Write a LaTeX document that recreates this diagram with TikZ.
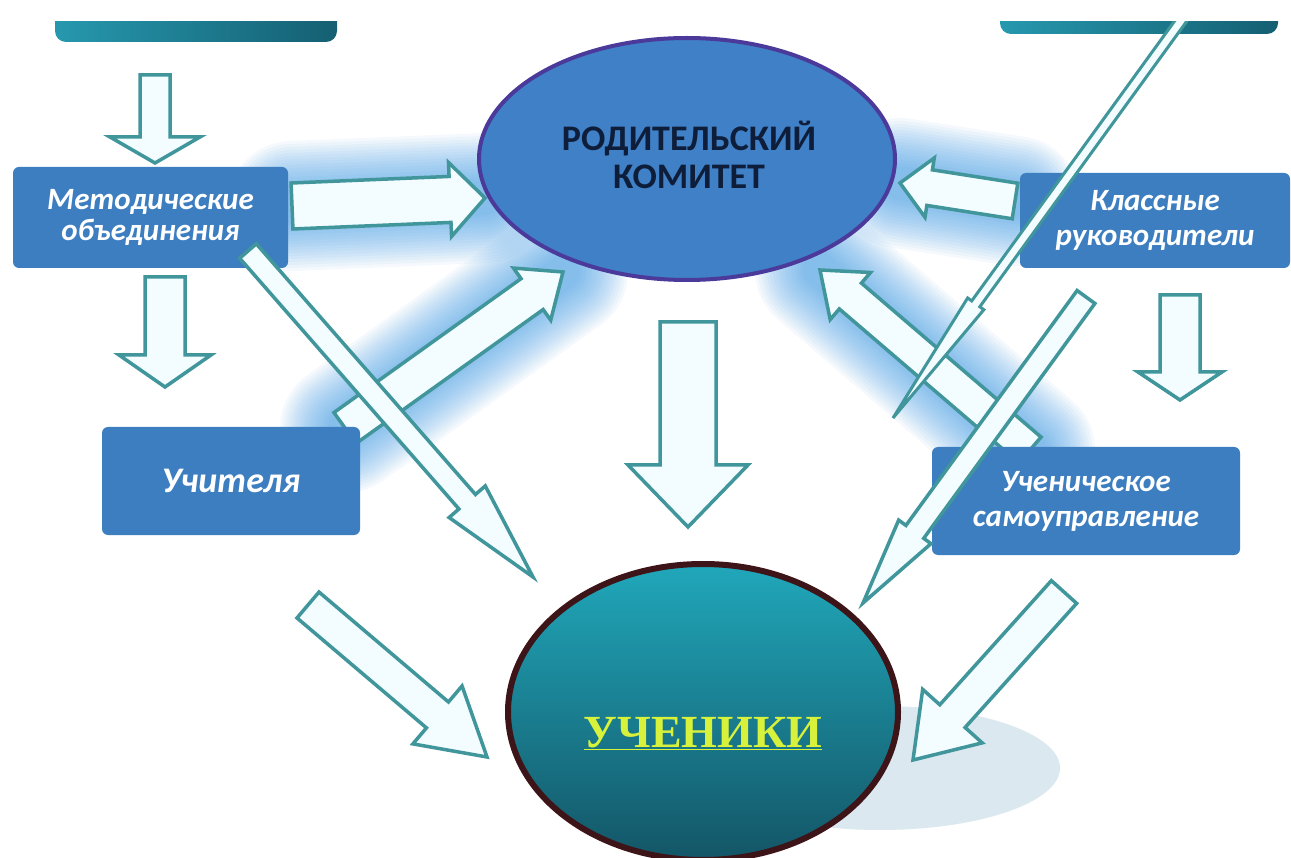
\documentclass[tikz,border=0pt]{standalone}
\usepackage{fontspec}
\setmainfont{Carlito}
\newfontfamily\timesfont{Liberation Serif}
\usetikzlibrary{shapes,calc}

\definecolor{boxblue}{HTML}{3D7EC0}
\definecolor{comfill}{HTML}{3F80C6}
\definecolor{comline}{HTML}{4B3A9A}
\definecolor{comtext}{HTML}{0E1E3A}
\definecolor{arrline}{HTML}{40969B}
\definecolor{arrfill}{HTML}{F3FCFF}
\definecolor{glowblue}{HTML}{3C9BE6}
\definecolor{pupline}{HTML}{3D1418}
\definecolor{pupyellow}{HTML}{D8F23C}
\definecolor{tealtop}{HTML}{2698AE}
\definecolor{tealdark}{HTML}{155F72}
\definecolor{shadowgrey}{HTML}{DCE8EF}

% block arrow: [style]{from}{to}{half shaft}{half head}{head length}
\newcommand{\fatarrow}[6][]{%
  \coordinate (fa-c) at ($(#3)!#6!(#2)$);
  \draw[arrow,#1] ($(#2)!#4!90:(#3)$) -- ($(fa-c)!#4!90:(#3)$) -- ($(fa-c)!#5!90:(#3)$)
    -- (#3) -- ($(fa-c)!#5!-90:(#3)$) -- ($(fa-c)!#4!-90:(#3)$) -- ($(#2)!#4!-90:(#3)$) -- cycle;
}
% soft blue halo along a line
\newcommand{\glowline}[2]{%
  \foreach \w in {130,124,...,34}
    \draw[glow,line width=\w pt] (#1) -- (#2);
}

\begin{document}
\begin{tikzpicture}[x=1pt,y=-1pt]
    \tikzstyle{arrow}=[draw=arrline,fill=arrfill,line width=3.5pt,line join=miter]
    \tikzstyle{glow}=[glowblue,opacity=0.05,line cap=round]
    \tikzstyle{box}=[rectangle,rounded corners=6pt,fill=boxblue,text=white,align=center,inner sep=0pt,
        font=\bfseries\itshape\fontsize{31}{35}\selectfont]
    \tikzstyle{topbox}=[rectangle,rounded corners=11pt,left color=tealtop,right color=tealdark,inner sep=0pt]
    \tikzstyle{committee}=[ellipse,fill=comfill,draw=comline,line width=4pt,minimum width=416pt,minimum height=242pt]
    \tikzstyle{comlabel}=[text=comtext,align=center,inner sep=0pt,font=\bfseries\fontsize{36}{38}\selectfont]
    \tikzstyle{pupils}=[ellipse,top color=tealtop!85!cyan,bottom color=tealdark!90!black,draw=pupline,
        line width=6pt,minimum width=390pt,minimum height=296pt]

    \useasboundingbox (0,0) rectangle (1291,858);
    \fill[white] (0,0) rectangle (1291,858);

    % shadow under the pupils
    \fill[shadowgrey] (880,768) ellipse [x radius=180pt, y radius=62pt];

    % arrow ends
    \coordinate (m2cA) at (292,206);  \coordinate (m2cB) at (485,198);
    \coordinate (k2cA) at (1015,201); \coordinate (k2cB) at (900,183);
    \coordinate (t2cA) at (345,428);  \coordinate (t2cB) at (563,272);
    \coordinate (s2cA) at (1030,450); \coordinate (s2cB) at (820,270);
    \coordinate (t2uA) at (308,605);  \coordinate (t2uB) at (487,757);
    \coordinate (s2uA) at (1064,592); \coordinate (s2uB) at (913,760);
    \coordinate (m2uA) at (248,251);  \coordinate (m2uB) at (533,577);
    \coordinate (k2uA) at (1086,297); \coordinate (k2uB) at (863,603);
    \coordinate (thinA) at (1196,0);  \coordinate (thinB) at (893,418);
    \coordinate (d1A) at (155,75);    \coordinate (d1B) at (155,163);
    \coordinate (d2A) at (165,277);   \coordinate (d2B) at (165,387);
    \coordinate (d3A) at (688,322);   \coordinate (d3B) at (688,527);
    \coordinate (d4A) at (1180,295);  \coordinate (d4B) at (1180,400);

    % halos
    \glowline{m2cA}{m2cB}
    \glowline{k2cA}{k2cB}
    \glowline{t2cA}{t2cB}
    \glowline{s2cA}{s2cB}

    % boxes cut by the top edge
    \begin{scope}
      \clip (0,22) rectangle (1291,858);
      \node[topbox,minimum width=282pt,minimum height=42pt] (topleft) at (196,21) {};
      \node[topbox,minimum width=278pt,minimum height=34pt] (topright) at (1139,17) {};
    \end{scope}

    \fatarrow{t2cA}{t2cB}{19pt}{32pt}{38pt}
    \fatarrow{s2cA}{s2cB}{17pt}{31pt}{40pt}
    \fatarrow{m2cA}{m2cB}{23pt}{37pt}{35pt}
    \fatarrow{k2cA}{k2cB}{18pt}{30pt}{30pt}
    \fatarrow{t2uA}{t2uB}{17pt}{38pt}{65pt}
    \fatarrow{s2uA}{s2uB}{17pt}{40pt}{59pt}
    \fatarrow{d1A}{d1B}{15pt}{45pt}{26pt}
    \fatarrow{d2A}{d2B}{20pt}{46pt}{32pt}
    \fatarrow{d3A}{d3B}{28pt}{60pt}{62pt}
    \fatarrow{d4A}{d4B}{20pt}{42pt}{28pt}

    \node[committee] (komitet) at (687,159) {};
    \node[comlabel] (komtext) at ($(komitet.center)+(2,-4)$) {РОДИТЕЛЬСКИЙ\\КОМИТЕТ};
    \node[box,minimum width=275pt,minimum height=101pt,font=\bfseries\itshape\fontsize{31}{31}\selectfont] (metod) at (150.5,217.5) {Методические\\объединения};
    \node[box,minimum width=258pt,minimum height=108pt,font=\bfseries\itshape\fontsize{36}{38}\selectfont] (uchitel) at (231,481) {Учителя};
    \node[box,minimum width=270pt,minimum height=95pt] (klass) at (1155,220.5) {Классные\\руководители};
    \node[box,minimum width=308pt,minimum height=108pt] (samoupr) at (1086,501) {Ученическое\\самоуправление};

    \node[pupils] (ucheniki) at (703,712) {};
    \node[text=pupyellow,font=\timesfont\bfseries\fontsize{46}{50}\selectfont,inner sep=0pt] (uchtext)
        at ($(ucheniki.center)+(0,22)$) {\underline{УЧЕНИКИ}};

    \fatarrow{m2uA}{m2uB}{11pt}{24pt}{100pt}
    \fatarrow{k2uA}{k2uB}{11pt}{20pt}{88pt}
    \begin{scope}
      \clip (0,22) rectangle (1291,858);
      \fatarrow[line width=3pt]{thinA}{thinB}{5pt}{10pt}{141pt}
    \end{scope}
\end{tikzpicture}
\end{document}
